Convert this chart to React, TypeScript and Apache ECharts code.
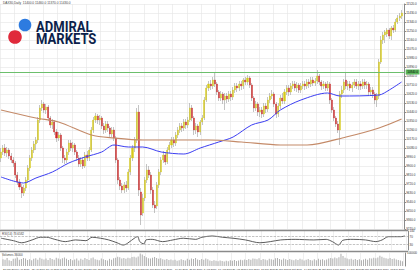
import React, { useEffect, useRef } from 'react';
import * as echarts from 'echarts';

// ---- candle data (DAX30 daily, 21 Mar 2016 onward) ----
const opens = [
  9980, 10040, 10080, 10030, 10060, 10000, 9960, 9930, 9810, 9740,
  9690, 9630, 9680, 9760, 9880, 9980, 10060, 10120, 10160, 10360,
  10480, 10520, 10460, 10490, 10380, 10310, 10340, 10240, 10180, 10210,
  10080, 9980, 9960, 10040, 10130, 10080, 10110, 10040, 9980, 9920,
  9960, 9900, 10010, 9980, 10060, 10260, 10360, 10400, 10360, 10380,
  10300, 10260, 10320, 10280, 10220, 10260, 10180, 9960, 9760, 9700,
  9660, 9710, 9680, 9840, 9980, 10080, 10160, 10440, 9640, 9430,
  9580, 9760, 9860, 9810, 9660, 9510, 9500, 9710, 9840, 9960,
  10010, 9940, 10060, 10110, 10160, 10130, 10210, 10260, 10300, 10280,
  10340, 10310, 10360, 10480, 10380, 10260, 10300, 10240, 10340, 10380,
  10560, 10680, 10720, 10700, 10760, 10720, 10640, 10580, 10620, 10560,
  10600, 10570, 10620, 10590, 10660, 10700, 10680, 10720, 10700, 10760,
  10740, 10780, 10710, 10580, 10480, 10520, 10440, 10460, 10420, 10500,
  10470, 10560, 10600, 10620, 10520, 10420, 10500, 10580, 10550, 10640,
  10680, 10640, 10700, 10720, 10680, 10710, 10660, 10700, 10720, 10700,
  10740, 10720, 10760, 10730, 10750, 10800, 10740, 10700, 10720, 10680,
  10720, 10560, 10460, 10380, 10320, 10260, 10620, 10660, 10760, 10700,
  10720, 10680, 10710, 10740, 10700, 10720, 10700, 10740, 10710, 10720,
  10640, 10660, 10620, 10560, 10600, 10940, 11160, 11210, 11220, 11260,
  11200, 11280, 11260, 11340, 11380, 11400,
];
const closes = [
  10040, 10080, 10030, 10060, 10000, 9960, 9930, 9810, 9740, 9690,
  9630, 9680, 9760, 9880, 9980, 10060, 10120, 10160, 10360, 10480,
  10520, 10460, 10490, 10380, 10310, 10340, 10240, 10180, 10210, 10080,
  9980, 9960, 10040, 10130, 10080, 10110, 10040, 9980, 9920, 9960,
  9900, 10010, 9980, 10060, 10260, 10360, 10400, 10360, 10380, 10300,
  10260, 10320, 10280, 10220, 10260, 10180, 9960, 9760, 9700, 9660,
  9710, 9680, 9840, 9980, 10080, 10160, 10440, 9660, 9410, 9580,
  9760, 9860, 9810, 9660, 9510, 9480, 9710, 9840, 9960, 10010,
  9940, 10060, 10110, 10160, 10130, 10210, 10260, 10300, 10280, 10340,
  10310, 10360, 10480, 10380, 10260, 10300, 10240, 10340, 10380, 10560,
  10680, 10720, 10700, 10760, 10720, 10640, 10580, 10620, 10560, 10600,
  10570, 10620, 10590, 10660, 10700, 10680, 10720, 10700, 10760, 10740,
  10780, 10710, 10580, 10480, 10520, 10440, 10460, 10420, 10500, 10470,
  10560, 10600, 10620, 10520, 10420, 10500, 10580, 10550, 10640, 10680,
  10640, 10700, 10720, 10680, 10710, 10660, 10700, 10720, 10700, 10740,
  10720, 10760, 10730, 10750, 10800, 10740, 10700, 10720, 10680, 10720,
  10560, 10460, 10380, 10320, 10260, 10620, 10660, 10740, 10700, 10720,
  10680, 10710, 10740, 10700, 10720, 10700, 10740, 10710, 10720, 10640,
  10660, 10620, 10560, 10600, 10940, 11160, 11210, 11240, 11260, 11200,
  11280, 11260, 11340, 11380, 11400, 11430,
];
const lows = [
  9940, 10010, 10000, 9990, 9970, 9930, 9890, 9780, 9710, 9660,
  9580, 9600, 9650, 9730, 9850, 9950, 10030, 10060, 10130, 10330,
  10450, 10430, 10420, 10350, 10280, 10270, 10210, 10140, 10150, 10050,
  9930, 9920, 9930, 10010, 10050, 10040, 10010, 9950, 9890, 9890,
  9870, 9880, 9950, 9950, 10040, 10230, 10330, 10320, 10310, 10270,
  10220, 10230, 10240, 10190, 10190, 10150, 9930, 9720, 9660, 9630,
  9630, 9640, 9660, 9810, 9950, 10040, 10130, 9600, 9310, 9400,
  9550, 9730, 9780, 9620, 9480, 9430, 9470, 9680, 9810, 9930,
  9910, 9920, 10030, 10080, 10090, 10100, 10180, 10230, 10240, 10250,
  10270, 10280, 10340, 10350, 10210, 10220, 10190, 10210, 10310, 10360,
  10540, 10650, 10660, 10670, 10690, 10610, 10550, 10550, 10520, 10460,
  10530, 10540, 10550, 10560, 10630, 10640, 10650, 10660, 10670, 10710,
  10710, 10680, 10550, 10440, 10450, 10400, 10390, 10380, 10390, 10430,
  10440, 10530, 10570, 10490, 10380, 10390, 10470, 10520, 10520, 10610,
  10600, 10610, 10670, 10650, 10640, 10630, 10630, 10670, 10660, 10670,
  10680, 10690, 10700, 10700, 10720, 10710, 10660, 10670, 10650, 10650,
  10520, 10430, 10350, 10290, 10230, 10110, 10580, 10630, 10670, 10660,
  10650, 10640, 10680, 10670, 10660, 10660, 10670, 10670, 10670, 10600,
  10600, 10580, 10520, 10490, 10570, 10920, 11120, 11130, 11190, 11170,
  11160, 11230, 11240, 11320, 11350, 11370,
];
const highs = [
  10080, 10110, 10120, 10090, 10080, 10030, 9990, 9950, 9840, 9770,
  9720, 9710, 9790, 9910, 10010, 10090, 10150, 10190, 10390, 10510,
  10560, 10540, 10520, 10510, 10400, 10370, 10360, 10270, 10240, 10230,
  10100, 10010, 10070, 10160, 10160, 10140, 10130, 10060, 10010, 9990,
  9990, 10040, 10050, 10090, 10290, 10390, 10430, 10420, 10410, 10400,
  10330, 10350, 10350, 10300, 10290, 10290, 10200, 9980, 9790, 9730,
  9740, 9750, 9870, 10010, 10110, 10190, 10480, 10510, 9680, 9620,
  9790, 9920, 9900, 9840, 9690, 9550, 9740, 9870, 9990, 10050,
  10040, 10090, 10140, 10190, 10190, 10240, 10290, 10330, 10330, 10370,
  10370, 10390, 10530, 10510, 10400, 10330, 10320, 10360, 10410, 10590,
  10710, 10750, 10760, 10790, 10830, 10740, 10660, 10650, 10640, 10630,
  10630, 10650, 10650, 10690, 10730, 10730, 10750, 10750, 10780, 10790,
  10810, 10800, 10730, 10600, 10550, 10540, 10490, 10490, 10530, 10530,
  10590, 10630, 10660, 10640, 10540, 10530, 10610, 10630, 10670, 10710,
  10710, 10730, 10750, 10750, 10740, 10730, 10730, 10750, 10750, 10770,
  10770, 10790, 10790, 10780, 10860, 10820, 10760, 10750, 10740, 10750,
  10740, 10580, 10490, 10400, 10350, 10650, 10700, 10770, 10830, 10750,
  10750, 10740, 10770, 10770, 10750, 10750, 10770, 10770, 10750, 10740,
  10690, 10690, 10640, 10630, 10970, 11200, 11240, 11260, 11280, 11280,
  11300, 11310, 11370, 11410, 11430, 11460,
];

// moving averages: [candle index, price]
const maFast: [number, number][] = [
  [0, 9790], [6, 9750], [11, 9730], [17, 9780], [25, 9840], [33, 9930], [41, 9990],
  [49, 10040], [55, 10110], [62, 10090], [69, 10090], [78, 10040], [89, 10020],
  [97, 10080], [106, 10140], [113, 10190], [122, 10310], [130, 10360], [136, 10460],
  [146, 10560], [159, 10630], [165, 10600], [184, 10610], [189, 10660], [195, 10740],
];
const maSlow: [number, number][] = [
  [0, 10460], [17, 10380], [28, 10340], [44, 10210], [55, 10180], [69, 10160],
  [101, 10160], [117, 10140], [136, 10110], [149, 10110], [168, 10190], [184, 10280], [195, 10370],
];

// RSI(14): [candle index, value]
const rsiPoints: [number, number][] = [
  [0, 62], [6, 49], [10, 38], [15, 53], [19, 67], [22, 67], [26, 56], [31, 44], [36, 53],
  [41, 49], [44, 67], [48, 62], [52, 53], [56, 38], [59, 26], [61, 35], [65, 67], [66, 70],
  [67, 44], [69, 32], [70, 53], [73, 56], [78, 44], [83, 53], [88, 62], [94, 56], [97, 67],
  [102, 74], [107, 67], [112, 62], [118, 53], [125, 38], [130, 44], [135, 53], [142, 56],
  [151, 53], [157, 56], [160, 44], [163, 26], [165, 51], [170, 56], [176, 53], [181, 44],
  [184, 53], [187, 70], [193, 70], [195, 74],
];

const volumes = [
  52000, 48000, 61000, 45000, 39000, 55000, 58000, 66000, 49000, 53000,
  62000, 57000, 47000, 51000, 44000, 56000, 60000, 48000, 63000, 55000,
  50000, 58000, 46000, 61000, 54000, 49000, 64000, 57000, 52000, 60000,
  66000, 55000, 47000, 53000, 45000, 50000, 58000, 43000, 56000, 49000,
  61000, 54000, 47000, 59000, 65000, 52000, 48000, 44000, 57000, 51000,
  46000, 42000, 55000, 49000, 60000, 63000, 71000, 67000, 58000, 62000,
  55000, 64000, 60000, 69000, 72000, 66000, 74000, 96000, 88000, 77000,
  68000, 60000, 57000, 64000, 70000, 62000, 55000, 59000, 51000, 48000,
  53000, 46000, 50000, 44000, 49000, 41000, 45000, 52000, 47000, 43000,
  55000, 48000, 58000, 54000, 61000, 50000, 46000, 53000, 49000, 57000,
  51000, 42000, 38000, 45000, 40000, 36000, 43000, 39000, 35000, 41000,
  37000, 44000, 40000, 46000, 38000, 42000, 48000, 44000, 50000, 47000,
  53000, 49000, 58000, 55000, 51000, 60000, 47000, 54000, 50000, 45000,
  56000, 52000, 48000, 59000, 62000, 53000, 49000, 57000, 51000, 46000,
  54000, 48000, 44000, 52000, 47000, 55000, 50000, 43000, 49000, 53000,
  46000, 42000, 51000, 45000, 56000, 48000, 52000, 44000, 50000, 57000,
  62000, 58000, 65000, 60000, 68000, 94000, 76000, 63000, 58000, 52000,
  56000, 49000, 54000, 47000, 51000, 45000, 50000, 55000, 48000, 60000,
  57000, 63000, 59000, 66000, 78000, 72000, 64000, 60000, 55000, 62000,
  53000, 58000, 50000, 47000, 42000, 36000,
];

const resistance = 10840;
const lastPrice = 11430;
const priceMin = 9270;
const priceMax = 11520;
const priceStep = 90;
const rsiLevels = [30, 70];
const rsiAxisLabels = [30, 70, 100];
const volumeMax = 100000;
const titleText = 'DAX30,Daily  11400.0 11460.0 11370.0 11430.0';
const rsiTitle = 'RSI(14) 73.6582';
const volumeTitle = 'Volumes 36000';

const monthNames = ['Jan', 'Feb', 'Mar', 'Apr', 'May', 'Jun', 'Jul', 'Aug', 'Sep', 'Oct', 'Nov', 'Dec'];
const exchangeHolidays = ['2016-03-25', '2016-03-28'];

function tradingDates(count: number): string[] {
  const out: string[] = [];
  let t = Date.UTC(2016, 2, 21);
  while (out.length < count) {
    const d = new Date(t);
    const dow = d.getUTCDay();
    const iso = d.toISOString().slice(0, 10);
    if (dow !== 0 && dow !== 6 && !exchangeHolidays.includes(iso)) {
      out.push(`${d.getUTCDate()} ${monthNames[d.getUTCMonth()]} ${d.getUTCFullYear()}`);
    }
    t += 86400000;
  }
  return out;
}

const FONT = 'Liberation Sans, Arial, sans-serif';

export default function App() {
  const ref = useRef<HTMLDivElement>(null);
  useEffect(() => {
    document.body.style.margin = '0';
    const chart = echarts.init(ref.current!, null, { renderer: 'svg' });
    const categories = [...tradingDates(opens.length), ''];
    const wickData = opens.map((o, i) => [o, closes[i], lows[i], highs[i]]);
    const bodyData = opens.map((o, i) => [o, closes[i], Math.min(o, closes[i]), Math.max(o, closes[i])]);
    const gridColor = '#e4e4e4';
    const xAxisFor = (g: number) => ({
      type: 'category',
      gridIndex: g,
      data: categories,
      boundaryGap: true,
      axisLine: { show: false },
      axisTick: { show: false },
      axisLabel:
        g === 2
          ? { show: true, interval: 6, align: 'left', fontSize: 2.5, color: '#333', margin: 1.5, fontFamily: FONT }
          : { show: false },
      splitLine: { show: true, interval: 6, lineStyle: { color: gridColor, width: 0.6 } },
    });
    const upColor = '#d6c91c';
    const downColor = '#cc2a2a';
    const wickColor = '#aaaaaa';
    chart.setOption({
      animation: false,
      backgroundColor: '#ffffff',
      textStyle: { fontFamily: FONT },
      grid: [
        { left: 0, right: 12, top: 4, height: 225 },
        { left: 0, right: 12, top: 231, height: 19 },
        { left: 0, right: 12, top: 253, height: 13 },
      ],
      xAxis: [xAxisFor(0), xAxisFor(1), xAxisFor(2)],
      yAxis: [
        {
          type: 'value',
          gridIndex: 0,
          position: 'right',
          min: priceMin,
          max: priceMax,
          interval: priceStep,
          axisLine: { show: true, lineStyle: { color: '#8a8a8a', width: 1 } },
          axisTick: { show: true, length: 1.5, lineStyle: { color: '#8a8a8a' } },
          axisLabel: { fontSize: 3, color: '#333', margin: 1.5, formatter: (v: number) => v.toFixed(1) },
          splitLine: { show: true, lineStyle: { color: gridColor, width: 0.6 } },
        },
        {
          type: 'value',
          gridIndex: 1,
          position: 'right',
          min: 0,
          max: 100,
          interval: 10,
          axisLine: { show: true, lineStyle: { color: '#8a8a8a', width: 1 } },
          axisTick: { show: false },
          axisLabel: {
            fontSize: 3,
            color: '#333',
            margin: 1.5,
            formatter: (v: number) => (rsiAxisLabels.includes(v) ? String(v) : ''),
          },
          splitLine: { show: false },
        },
        {
          type: 'value',
          gridIndex: 2,
          position: 'right',
          min: 0,
          max: volumeMax,
          interval: volumeMax / 2,
          axisLine: { show: true, lineStyle: { color: '#8a8a8a', width: 1 } },
          axisTick: { show: false },
          axisLabel: {
            fontSize: 3,
            color: '#333',
            margin: 1.5,
            formatter: (v: number) => (v === volumeMax ? String(v) : ''),
          },
          splitLine: { show: false },
        },
      ],
      series: [
        {
          name: 'wicks',
          type: 'candlestick',
          xAxisIndex: 0,
          yAxisIndex: 0,
          data: wickData,
          barWidth: 1,
          itemStyle: { color: wickColor, color0: wickColor, borderColor: wickColor, borderColor0: wickColor, borderWidth: 0.7 },
          silent: true,
          z: 2,
        },
        {
          name: 'DAX30',
          type: 'candlestick',
          xAxisIndex: 0,
          yAxisIndex: 0,
          data: bodyData,
          barWidth: '75%',
          itemStyle: { color: upColor, color0: downColor, borderColor: upColor, borderColor0: downColor, borderWidth: 0.4 },
          silent: true,
          z: 3,
          markLine: {
            silent: true,
            symbol: 'none',
            animation: false,
            data: [
              {
                yAxis: resistance,
                lineStyle: { color: '#6cbf6c', width: 1, type: 'solid' },
                label: {
                  show: true,
                  position: 'end',
                  distance: 1,
                  formatter: resistance.toFixed(1),
                  backgroundColor: '#5cb85c',
                  color: '#000',
                  fontSize: 3,
                  padding: [1, 1.5],
                },
              },
              {
                yAxis: lastPrice,
                lineStyle: { opacity: 0 },
                label: {
                  show: true,
                  position: 'end',
                  distance: 1,
                  formatter: lastPrice.toFixed(1),
                  backgroundColor: '#000',
                  color: '#fff',
                  fontSize: 3,
                  padding: [1, 1.5],
                },
              },
            ],
          },
        },
        {
          name: 'MA fast',
          type: 'line',
          xAxisIndex: 0,
          yAxisIndex: 0,
          data: maFast,
          symbol: 'none',
          smooth: 0.3,
          lineStyle: { color: '#3b3df2', width: 1 },
          silent: true,
          z: 4,
        },
        {
          name: 'MA slow',
          type: 'line',
          xAxisIndex: 0,
          yAxisIndex: 0,
          data: maSlow,
          symbol: 'none',
          smooth: 0.3,
          lineStyle: { color: '#c48a68', width: 1.2 },
          silent: true,
          z: 4,
        },
        {
          name: 'RSI',
          type: 'line',
          xAxisIndex: 1,
          yAxisIndex: 1,
          data: rsiPoints,
          symbol: 'none',
          smooth: 0.3,
          lineStyle: { color: '#4a4a4a', width: 0.9 },
          silent: true,
          markLine: {
            silent: true,
            symbol: 'none',
            label: { show: false },
            lineStyle: { color: '#9a9a9a', width: 0.6, type: 'dashed' },
            data: rsiLevels.map((v) => ({ yAxis: v })),
          },
        },
        {
          name: 'Volumes',
          type: 'bar',
          xAxisIndex: 2,
          yAxisIndex: 2,
          data: volumes,
          barWidth: '50%',
          itemStyle: { color: '#b0b0b0' },
          silent: true,
        },
      ],
      graphic: [
        { type: 'line', z: 100, shape: { x1: 0, y1: 230.5, x2: 408, y2: 230.5 }, style: { stroke: '#8a8a8a', lineWidth: 1.5 } },
        { type: 'line', z: 100, shape: { x1: 0, y1: 251.5, x2: 408, y2: 251.5 }, style: { stroke: '#8a8a8a', lineWidth: 1.5 } },
        { type: 'text', z: 100, x: 3, y: 0.8, style: { text: titleText, font: `3.2px ${FONT}`, fill: '#444' } },
        { type: 'text', z: 100, x: 2, y: 232.3, style: { text: rsiTitle, font: `3px ${FONT}`, fill: '#444' } },
        { type: 'text', z: 100, x: 2, y: 253, style: { text: volumeTitle, font: `3px ${FONT}`, fill: '#444' } },
        { type: 'circle', z: 100, shape: { cx: 25, cy: 25, r: 6.3 }, style: { fill: '#2d7be0' } },
        { type: 'circle', z: 100, shape: { cx: 15, cy: 37, r: 6.8 }, style: { fill: '#e02a3b' } },
        {
          type: 'text',
          z: 100,
          x: 36,
          y: 26.3,
          scaleX: 0.87,
          style: { text: 'ADMIRAL', font: 'bold 15px Roboto', fill: '#0c1f4b', textVerticalAlign: 'middle' },
        },
        {
          type: 'text',
          z: 100,
          x: 36,
          y: 38.3,
          scaleX: 0.87,
          style: { text: 'MARKETS', font: 'bold 15px Roboto', fill: '#0c1f4b', textVerticalAlign: 'middle' },
        },
      ],
    });
    return () => chart.dispose();
  }, []);
  return <div ref={ref} style={{ width: 420, height: 271 }} />;
}
